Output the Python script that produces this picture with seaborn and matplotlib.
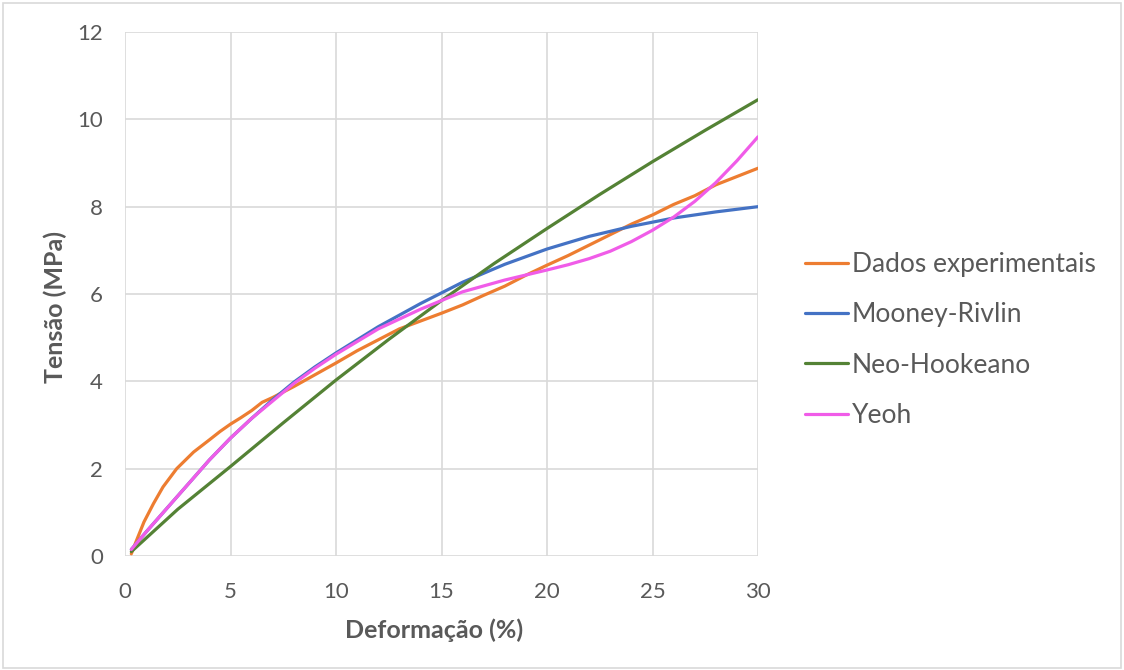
import numpy as np
import pandas as pd
import seaborn as sns
import matplotlib.pyplot as plt
from matplotlib.patches import Rectangle

# Data
exp_x = [0.3, 0.5, 0.9, 1.35, 1.8, 2.45, 3.25, 4.0, 4.5, 5.0, 5.5, 6.0, 6.5, 7.0, 8, 9, 10, 11, 12,
         13, 14, 15, 16, 17, 18, 19, 20, 21, 22, 23, 24, 25, 26, 27, 28, 29, 30]
exp_y = [0.05, 0.3, 0.78, 1.2, 1.58, 2.0, 2.38, 2.66, 2.85, 3.02, 3.17, 3.33, 3.52, 3.63, 3.88, 4.15,
         4.42, 4.7, 4.95, 5.2, 5.38, 5.56, 5.75, 5.97, 6.18, 6.43, 6.66, 6.88, 7.12, 7.36, 7.6, 7.81,
         8.05, 8.25, 8.5, 8.69, 8.88]
mr_x = [0.3, 1, 2, 3, 4, 5, 6, 7, 8, 9, 10, 12, 14, 16, 18, 20, 22, 24, 26, 28, 30]
mr_y = [0.15, 0.55, 1.1, 1.65, 2.2, 2.7, 3.15, 3.58, 3.98, 4.33, 4.65, 5.25, 5.78, 6.27, 6.68, 7.03,
        7.32, 7.55, 7.74, 7.88, 8.0]
nh_x = [0.3, 2.5, 5, 7.5, 10, 12.5, 15, 17.5, 20, 22.5, 25, 27.5, 30]
nh_y = [0.1, 1.07, 2.05, 3.05, 4.03, 4.96, 5.85, 6.7, 7.5, 8.28, 9.03, 9.75, 10.45]
yeoh_x = [0.3, 1, 2, 3, 4, 5, 6, 7, 8, 9, 10, 12, 14, 16, 18, 20, 21, 22, 23, 24, 25, 26, 27, 28, 29, 30]
yeoh_y = [0.15, 0.55, 1.1, 1.65, 2.2, 2.7, 3.15, 3.55, 3.95, 4.3, 4.62, 5.2, 5.65, 6.05, 6.32, 6.55,
          6.67, 6.81, 6.98, 7.2, 7.46, 7.76, 8.12, 8.55, 9.05, 9.6]

series_names = ["Dados experimentais", "Mooney-Rivlin", "Neo-Hookeano", "Yeoh"]
colors = ["#ED7D31", "#4472C4", "#548235", "#F05CE8"]
x_ticks = [0, 5, 10, 15, 20, 25, 30]
y_ticks = [0, 2, 4, 6, 8, 10, 12]

frames = []
for name, xs, ys in zip(series_names, [exp_x, mr_x, nh_x, yeoh_x], [exp_y, mr_y, nh_y, yeoh_y]):
    frames.append(pd.DataFrame({"x": xs, "y": ys, "s": name}))
df = pd.concat(frames, ignore_index=True)

sns.set_style("white")
plt.rcParams['font.family'] = ['Lato', 'DejaVu Sans']
txt = "#595959"

fig = plt.figure(figsize=(11.24, 6.7), dpi=100)
ax = fig.add_axes([125/1124, 114/670, (758-125)/1124, (556-32)/670])

sns.lineplot(data=df, x="x", y="y", hue="s", hue_order=series_names,
             palette=dict(zip(series_names, colors)), linewidth=2.3,
             sort=False, estimator=None, ax=ax, legend=False)

ax.set_xlim(0, 30)
ax.set_ylim(0, 12)
ax.set_xticks(x_ticks)
ax.set_yticks(y_ticks)
ax.grid(True, color="#D9D9D9", linewidth=1.2)
ax.set_axisbelow(True)
for sp in ax.spines.values():
    sp.set_visible(False)
ax.tick_params(axis='both', length=0, labelsize=16, labelcolor=txt)
ax.tick_params(axis='x', pad=19)
ax.tick_params(axis='y', pad=16)
ax.set_xlabel("Deformação (%)", fontsize=18, fontweight='bold', color=txt)
ax.set_ylabel("Tensão (MPa)", fontsize=18, fontweight='bold', color=txt)
ax.xaxis.set_label_coords((434 - 125) / 633, (556 - 618) / 524)
ax.yaxis.set_label_coords((67 - 125) / 633, (556 - 307) / 524)

handles = [plt.Line2D([], [], color=c, lw=2.3) for c in colors]
leg = fig.legend(handles, series_names, loc='center left', bbox_to_anchor=(805/1124, 1 - 340/670),
                 frameon=False, fontsize=19, handlelength=1.63, handletextpad=0.15,
                 labelspacing=0.96, borderpad=0, borderaxespad=0)
for t in leg.get_texts():
    t.set_color(txt)

fig.patches.append(Rectangle((3/1124, 2/670), 1118/1124, 665/670, transform=fig.transFigure,
                             fill=False, edgecolor="#D9D9D9", linewidth=1.2))

fig.savefig("out.png", dpi=100)
